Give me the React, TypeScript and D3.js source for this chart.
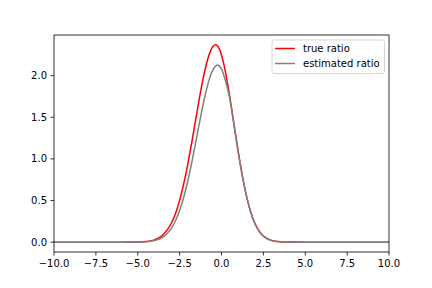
import React from "react";
import * as d3 from "d3";

const xs = [-10, -6, -5, -4.5, -4, -3.5, -3, -2.75, -2.5, -2.25, -2, -1.75, -1.5, -1.25, -1, -0.75, -0.5, -0.35, -0.25, 0, 0.25, 0.5, 0.75, 1, 1.25, 1.5, 1.75, 2, 2.25, 2.5, 3, 3.5, 4, 5, 6, 10];
const trueRatio = [0, 0, 0.002, 0.007, 0.027, 0.085, 0.224, 0.342, 0.502, 0.705, 0.95, 1.227, 1.52, 1.805, 2.056, 2.246, 2.352, 2.37, 2.36, 2.249, 2.031, 1.739, 1.411, 1.085, 0.791, 0.547, 0.358, 0.222, 0.131, 0.073, 0.019, 0.004, 0.001, 0, 0, 0];
const estRatio = [0, 0, 0.001, 0.005, 0.018, 0.06, 0.163, 0.254, 0.38, 0.543, 0.746, 0.982, 1.24, 1.502, 1.744, 1.943, 2.076, 2.115, 2.127, 2.079, 1.93, 1.72, 1.4, 1.08, 0.789, 0.546, 0.357, 0.221, 0.13, 0.072, 0.018, 0.004, 0.001, 0, 0, 0];
const xTicks = [-10, -7.5, -5, -2.5, 0, 2.5, 5, 7.5, 10];
const yTicks = [0, 0.5, 1, 1.5, 2];
const seriesNames = ["true ratio", "estimated ratio"];
const seriesColors = ["red", "gray"];

const W = 432, H = 288;
const L = 54, R = 389, T = 35, B = 252;

export default function App() {
  const x = d3.scaleLinear().domain([-10, 10]).range([L, R]);
  const ymax = d3.max(trueRatio)!;
  const ymin = 0;
  const span = ymax - ymin;
  const y = d3.scaleLinear().domain([ymin - 0.05 * span, ymax + 0.05 * span]).range([B, T]);
  const line = d3.line<number>().x((_, i) => x(xs[i])).y((d) => y(d)).curve(d3.curveMonotoneX);
  const fmt = (v: number) => v.toFixed(1).replace("-", "\u2212");
  const font = "DejaVu Sans, sans-serif";
  const series = [trueRatio, estRatio];
  return (
    <svg width={W} height={H} style={{ position: "absolute", left: 0, top: 0, background: "#fff" }} fontFamily={font}>
      <rect x={0} y={0} width={W} height={H} fill="#fff" />
      <defs>
        <clipPath id="clip"><rect x={L} y={T} width={R - L} height={B - T} /></clipPath>
      </defs>
      <g clipPath="url(#clip)">
        {series.map((s, i) => (
          <path key={i} d={line(s)!} fill="none" stroke={seriesColors[i]} strokeWidth={1.5} strokeLinejoin="round" strokeLinecap="square" />
        ))}
      </g>
      <rect x={L} y={T} width={R - L} height={B - T} fill="none" stroke="#000" strokeWidth={0.8} />
      {xTicks.map((t) => (
        <g key={"x" + t}>
          <line x1={x(t)} x2={x(t)} y1={B} y2={B + 3.5} stroke="#000" strokeWidth={0.8} />
          <text x={x(t)} y={B + 14.5} fontSize={10} textAnchor="middle" fill="#000">{fmt(t)}</text>
        </g>
      ))}
      {yTicks.map((t) => (
        <g key={"y" + t}>
          <line x1={L - 3.5} x2={L} y1={y(t)} y2={y(t)} stroke="#000" strokeWidth={0.8} />
          <text x={L - 7} y={y(t) + 3.6} fontSize={10} textAnchor="end" fill="#000">{fmt(t)}</text>
        </g>
      ))}
      <g>
        <rect x={272} y={40} width={112.5} height={33.5} rx={2} fill="#fff" fillOpacity={0.8} stroke="#ccc" strokeOpacity={0.8} strokeWidth={1} />
        {seriesNames.map((n, i) => (
          <g key={n}>
            <line x1={275} x2={295} y1={48.5 + i * 15} y2={48.5 + i * 15} stroke={seriesColors[i]} strokeWidth={1.5} />
            <text x={303} y={48.5 + i * 15 + 3.6} fontSize={10} fill="#000">{n}</text>
          </g>
        ))}
      </g>
    </svg>
  );
}
